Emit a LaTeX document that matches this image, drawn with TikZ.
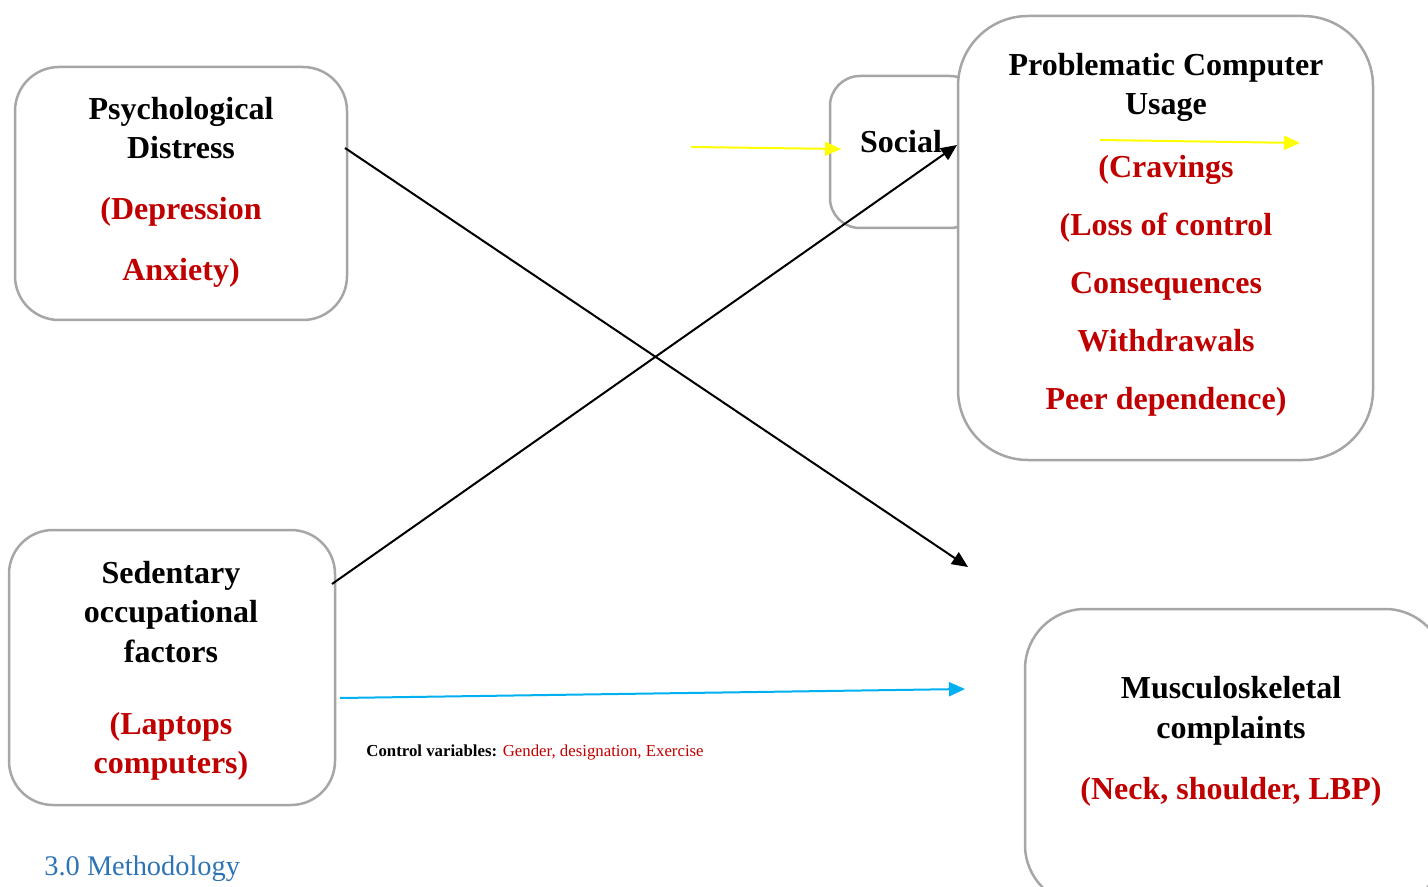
\documentclass[tikz,border=0pt]{standalone}
\usepackage{fontspec}
\setmainfont{Liberation Serif}
\usetikzlibrary{arrows.meta}
\definecolor{boxgray}{HTML}{A6A6A6}
\definecolor{darkred}{HTML}{C00000}
\definecolor{skyblue}{HTML}{00B0F0}
\definecolor{headblue}{HTML}{2E74B5}
\definecolor{ylw}{HTML}{FFFF00}
\tikzset{
  box/.style={draw=boxgray, line width=1.25pt, rounded corners=#1, fill=white, inner sep=0pt},
  ttl/.style={font=\bfseries\fontsize{16}{19.75}\selectfont, align=center, inner sep=0pt},
  redl/.style={font=\bfseries\fontsize{16}{#1}\selectfont, align=center, text=darkred, inner sep=0pt},
  arr/.style={line width=1pt, -{Triangle[length=8pt,width=7pt]}}
}
\begin{document}
\begin{tikzpicture}[x=0.5pt,y=-0.5pt]
\useasboundingbox (0,0) rectangle (1428,887);
% boxes
\node[box=22pt, minimum width=166pt, minimum height=126.5pt] (psy) at (181,193.5) {};
\node[box=15pt, minimum width=75pt, minimum height=76pt] (soc) at (905,152) {};
\node[box=35pt, minimum width=207.5pt, minimum height=222pt] (pcu) at (1165.5,238) {};
\node[box=22pt, minimum width=163pt, minimum height=137.5pt] (sed) at (172,667.5) {};
\node[box=30pt, minimum width=210pt, minimum height=148pt] (msk) at (1235,757) {};
% texts
\node[ttl] (psyt) at (181,128) {Psychological\\Distress};
\node[redl=30.5pt] (psyr) at (181,242) {(Depression\\Anxiety)};
\node[ttl] (soct) at (901,142) {Social};
\node[ttl] (pcut) at (1166,87.5) {Problematic Computer\\Usage};
\node[redl=29pt] (pcur) at (1166,286) {(Cravings\\(Loss of control\\Consequences\\Withdrawals\\Peer dependence)};
\node[ttl] (sedt) at (171,612) {Sedentary\\occupational\\factors};
\node[redl=19.5pt] (sedr) at (171,746) {(Laptops\\computers)};
\node[ttl] (mskt) at (1231,711) {Musculoskeletal\\complaints};
\node[redl=20pt] (mskr) at (1231,792) {(Neck, shoulder, LBP)};
\node[anchor=west, inner sep=0pt, font=\fontsize{8.4}{10}\selectfont] (ctrl) at (366,752) {\textbf{Control variables:} \textcolor{darkred}{Gender, designation, Exercise}};
\node[anchor=west, inner sep=0pt, font=\fontsize{14.2}{16}\selectfont, text=headblue] (meth) at (44,869) {3.0 Methodology};
% arrow endpoints
\coordinate (a1s) at (345,148);
\coordinate (a1e) at (968,567);
\coordinate (a2s) at (332,584);
\coordinate (a2e) at (957,145);
\coordinate (y1s) at (691,147);
\coordinate (y1e) at (841,149);
\coordinate (y2s) at (1100,140);
\coordinate (y2e) at (1300,143);
\coordinate (bs) at (340,698);
\coordinate (be) at (965,689);
% arrows
\draw[arr, black] (a1s) -- (a1e);
\draw[arr, black] (a2s) -- (a2e);
\draw[arr, ylw] (y1s) -- (y1e);
\draw[arr, ylw] (y2s) -- (y2e);
\draw[arr, skyblue] (bs) -- (be);
\end{tikzpicture}
\end{document}
